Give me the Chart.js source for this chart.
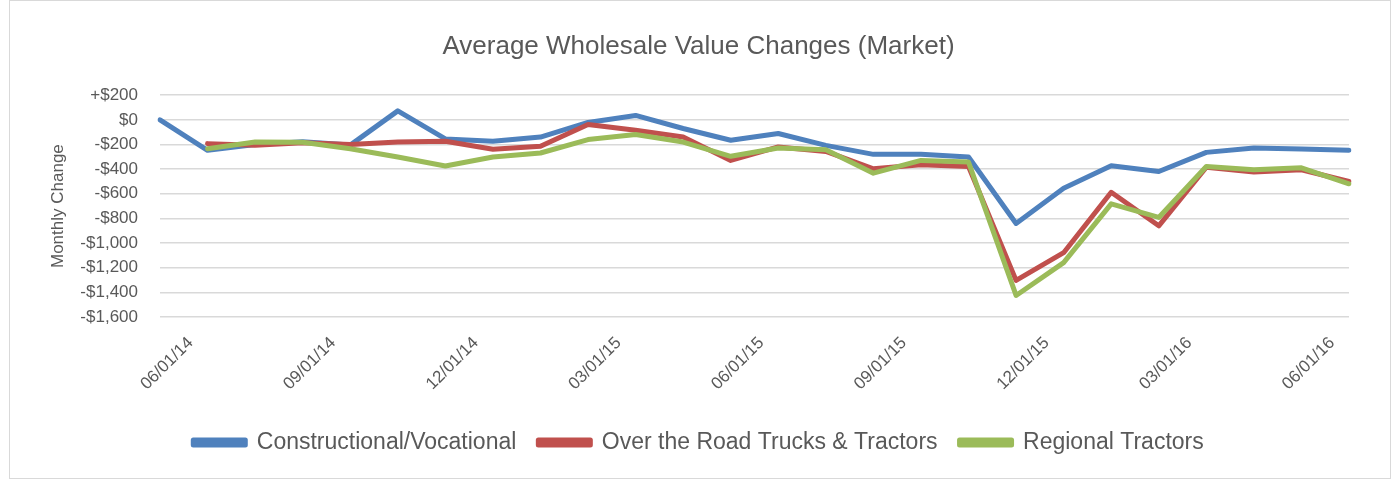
<!DOCTYPE html>
<html>
<head>
<meta charset="utf-8">
<script src="https://cdn.jsdelivr.net/npm/chart.js@4/dist/chart.umd.min.js"></script>
<style>
  body { margin: 0; background: #fff; }
  #box { position: absolute; left: 9px; top: 0px; width: 1380px; height: 477px; border: 1px solid #d9d9d9; }
  #chart { display: block; }
</style>
</head>
<body>
<div id="box"><canvas id="chart" width="1380" height="477"></canvas></div>
<script>
// months, 05/01/14 .. 06/01/16
var months = ["05/01/14", "06/01/14", "07/01/14", "08/01/14", "09/01/14", "10/01/14", "11/01/14",
  "12/01/14", "01/01/15", "02/01/15", "03/01/15", "04/01/15", "05/01/15", "06/01/15",
  "07/01/15", "08/01/15", "09/01/15", "10/01/15", "11/01/15", "12/01/15", "01/01/16",
  "02/01/16", "03/01/16", "04/01/16", "05/01/16", "06/01/16"];

var constructional = [0, -247, -200, -178, -205, 73, -155, -174, -140, -21, 36, -70, -166,
  -111, -207, -280, -280, -302, -841, -555, -373, -419, -264, -229, -237, -247];
var overTheRoad = [null, -193, -207, -185, -201, -180, -174, -239, -215, -38, -84, -139, -329,
  -220, -256, -397, -364, -378, -1303, -1078, -588, -860, -384, -424, -405, -500];
var regional = [null, -234, -180, -182, -234, -302, -375, -302, -269, -160, -119, -180, -296,
  -229, -242, -433, -329, -343, -1425, -1159, -682, -792, -378, -405, -389, -519];

var yTicks = [200, 0, -200, -400, -600, -800, -1000, -1200, -1400, -1600];

var grey = '#595959';
var font = "'Liberation Sans', Arial, sans-serif";

function money(v) {
  if (v == 0) return '$0';
  var s = '$' + Math.abs(v).toLocaleString('en-US');
  return (v > 0 ? '+' : '-') + s;
}

function series(label, data, color, order) {
  return {
    label: label,
    data: data,
    borderColor: color,
    backgroundColor: color,
    borderWidth: 5,
    pointRadius: 0,
    tension: 0,
    borderJoinStyle: 'round',
    borderCapStyle: 'round',
    order: order
  };
}

var ctx = document.getElementById('chart').getContext('2d');
var myChart = new Chart(ctx, {
  type: 'line',
  data: {
    labels: months,
    datasets: [
      series('Constructional/Vocational', constructional, '#4f81bd', 3),
      series('Over the Road Trucks & Tractors', overTheRoad, '#c0504d', 2),
      series('Regional Tractors', regional, '#9bbb59', 1)
    ]
  },
  options: {
    responsive: false,
    animation: false,
    layout: { padding: { left: 38, right: 41, top: 0, bottom: 14 } },
    plugins: {
      title: {
        display: true,
        text: 'Average Wholesale Value Changes (Market)',
        color: grey,
        font: { family: font, size: 26, weight: 'normal' },
        padding: { top: 30, bottom: 33 }
      },
      legend: {
        position: 'bottom',
        labels: {
          color: grey,
          font: { family: font, size: 23 },
          boxWidth: 52,
          boxHeight: 5,
          padding: 22,
          sort: function (a, b) { return a.datasetIndex - b.datasetIndex; }
        }
      },
      tooltip: { enabled: false }
    },
    scales: {
      x: {
        offset: false,
        grid: { display: false, drawTicks: false },
        border: { display: false },
        afterFit: function (s) { s.height = 92; },
        ticks: {
          autoSkip: false,
          maxRotation: 45,
          minRotation: 45,
          padding: 16,
          labelOffset: -17,
          color: grey,
          font: { family: font, size: 17 },
          callback: function (val, i) {
            return i % 3 == 1 ? months[i] : '';
          }
        }
      },
      y: {
        min: -1600,
        max: 200,
        afterFit: function (s) { s.width = 112; },
        afterBuildTicks: function (s) {
          s.ticks = yTicks.map(function (v) { return { value: v }; });
        },
        grid: { color: '#d9d9d9', lineWidth: 1.5, drawTicks: false },
        border: { display: false },
        title: {
          display: true,
          text: 'Monthly Change',
          color: grey,
          font: { family: font, size: 17 },
          padding: 0
        },
        ticks: {
          autoSkip: false,
          padding: 22,
          color: grey,
          font: { family: font, size: 17 },
          callback: function (v) { return money(v); }
        }
      }
    }
  }
});
</script>
</body>
</html>
